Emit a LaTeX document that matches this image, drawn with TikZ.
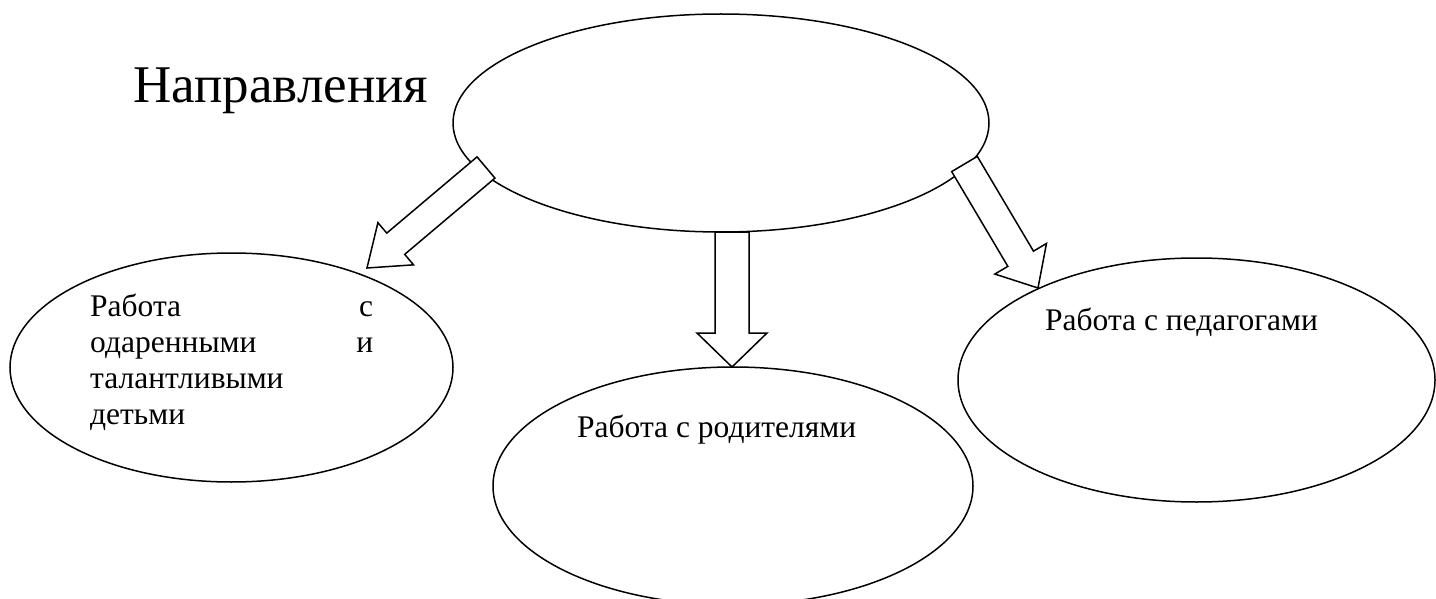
\documentclass[tikz,border=0pt]{standalone}
\usepackage{fontspec}
\setmainfont{Liberation Serif}
\usetikzlibrary{shapes.geometric,calc}
\tikzset{
  oval/.style={draw=black, line width=1.5pt, ellipse, inner sep=0pt, fill=none},
  blockarr/.style={draw=black, line width=1.5pt, fill=white, line join=miter},
  lbl/.style={inner sep=0pt, anchor=base west, font=\fontsize{31.5}{35.7}\selectfont},
  title/.style={inner sep=0pt, anchor=base west, font=\fontsize{53}{60}\selectfont}
}
\newcommand\myblockarrow[5]{%
  \coordinate (hb#1#2) at ($(#2)!#5!(#1)$);
  \draw[blockarr] ($(#1)!#3!90:(#2)$) -- ($(hb#1#2)!#3!90:(#2)$) -- ($(hb#1#2)!#4!90:(#2)$) -- (#2)
     -- ($(hb#1#2)!#4!-90:(#2)$) -- ($(hb#1#2)!#3!-90:(#2)$) -- ($(#1)!#3!-90:(#2)$) -- cycle;
}
\begin{document}
\begin{tikzpicture}[x=1pt,y=-1pt]
\useasboundingbox (0,0) rectangle (1436,599);
% ellipses
\node[oval, minimum width=536pt, minimum height=218pt] (top) at (721,123) {};
\node[oval, minimum width=443pt, minimum height=229pt] (left) at (231.5,367.5) {};
\node[oval, minimum width=480pt, minimum height=238pt] (mid) at (733,486) {};
\node[oval, minimum width=477pt, minimum height=244pt] (right) at (1196.5,380) {};
% arrow anchor points
\coordinate (la) at (486,167.5);
\coordinate (lb) at (367,268);
\coordinate (ma) at (732,232);
\coordinate (mb) at (732,367);
\coordinate (ra) at (964.5,164);
\coordinate (rb) at (1038,288);
\myblockarrow{la}{lb}{13.9pt}{27.6pt}{37.6pt}
\myblockarrow{ma}{mb}{17pt}{35pt}{34pt}
\myblockarrow{ra}{rb}{14.9pt}{30pt}{34pt}
% texts
\node[title] (ttl) at (133,103) {Направления};
\node[lbl, align=left, anchor=base west] (ltxt) at (90,424) {\makebox[283pt][l]{Работа\hfill с}\\\makebox[283pt][l]{одаренными\hfill и}\\талантливыми\\детьми};
\node[lbl] (mtxt) at (577,437) {Работа с родителями};
\node[lbl] (rtxt) at (1045,330) {Работа с педагогами};
\end{tikzpicture}
\end{document}
